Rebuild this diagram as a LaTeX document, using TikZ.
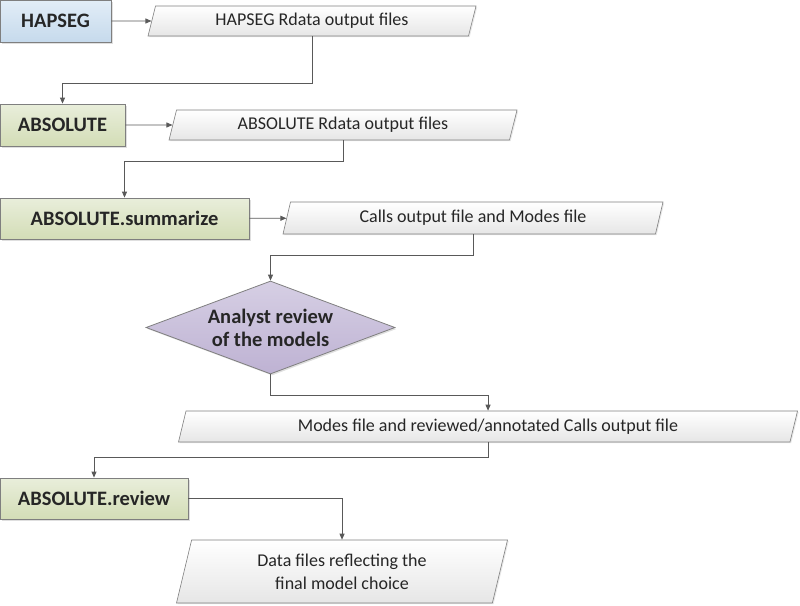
\documentclass[tikz,border=0pt]{standalone}
\usepackage{fontspec}
\setmainfont{Carlito}
\usepackage{xcolor}
\definecolor{linegray}{HTML}{595959}
\definecolor{boxedge}{HTML}{7F7F7F}
\definecolor{haptop}{HTML}{E2EDF7}
\definecolor{hapbot}{HTML}{C6DAEC}
\definecolor{abstop}{HTML}{E9EEDB}
\definecolor{absbot}{HTML}{D3DDB6}
\definecolor{revtop}{HTML}{D6CFE4}
\definecolor{revbot}{HTML}{BEB2D3}
\definecolor{filebot}{HTML}{E6E6E6}
\usetikzlibrary{shapes.geometric, arrows.meta, shadows}

\begin{document}
\begin{tikzpicture}[x=1pt, y=1pt,
  every node/.style={font=\fontsize{18}{23}\selectfont, text=black!85},
  tool/.style={draw=boxedge, line width=0.8pt, rectangle, inner sep=0pt,
               font=\fontsize{20.5}{23}\selectfont\bfseries,
               drop shadow={opacity=0.25, shadow xshift=1.5pt, shadow yshift=-1.5pt}},
  hapbox/.style={tool, top color=haptop, bottom color=hapbot},
  absbox/.style={tool, top color=abstop, bottom color=absbot},
  choice/.style={tool, diamond, align=center, top color=revtop, bottom color=revbot},
  files/.style={draw=boxedge, line width=0.6pt, trapezium, trapezium stretches body,
                trapezium left angle=#1, trapezium right angle=180-#1,
                inner xsep=4pt, inner ysep=0pt, align=center,
                top color=white, bottom color=filebot,
                drop shadow={opacity=0.18, shadow xshift=1.2pt, shadow yshift=-1.2pt}},
  files/.default=64,
  arr/.style={draw=linegray, line width=0.8pt, -{Triangle[length=6pt, width=5pt]}}
]
  \useasboundingbox (0,0) rectangle (800,-605);

  % tools
  \node[hapbox, minimum width=111, minimum height=42] (hapseg) at (55.5,-21) {HAPSEG};
  \node[absbox, minimum width=125, minimum height=42] (absolute) at (62.5,-125) {ABSOLUTE};
  \node[absbox, minimum width=249, minimum height=41] (summarize) at (124.5,-218.5) {ABSOLUTE.summarize};
  \node[choice, minimum width=249, minimum height=93, aspect=2.68] (analyst) at (270.5,-327.5)
    {Analyst review\\of the models};
  \node[absbox, minimum width=188, minimum height=41] (absreview) at (94,-498.5) {ABSOLUTE.review};

  % output files
  \node[files, minimum width=328, minimum height=30] (hapsegout) at (312,-21) {HAPSEG Rdata output files};
  \node[files, minimum width=348, minimum height=30] (absout) at (343,-125) {ABSOLUTE Rdata output files};
  \node[files, minimum width=380, minimum height=32] (callsout) at (473,-218) {Calls output file and Modes file};
  \node[files, minimum width=619, minimum height=31] (reviewedout) at (488,-426.5)
    {Modes file and reviewed/annotated Calls output file};
  \node[files=67, minimum width=331, minimum height=63] (finalout) at (342,-571.5)
    {Data files reflecting the\\final model choice};

  % connectors
  \draw[arr] (hapseg) -- (hapsegout);
  \draw[arr] (hapsegout.south) -- ++(0,-47) -| (absolute.north);
  \draw[arr] (absolute) -- (absout);
  \draw[arr] (absout.south) -- ++(0,-21) -| (summarize.north);
  \draw[arr] (summarize) -- (callsout);
  \draw[arr] (callsout.south) -- ++(0,-21) -| (analyst.north);
  \draw[arr] (analyst.south) -- ++(0,-21) -| (reviewedout.north);
  \draw[arr] (reviewedout.south) -- ++(0,-15) -| (absreview.north);
  \draw[arr] (absreview.east) -| (finalout.north);
\end{tikzpicture}
\end{document}
